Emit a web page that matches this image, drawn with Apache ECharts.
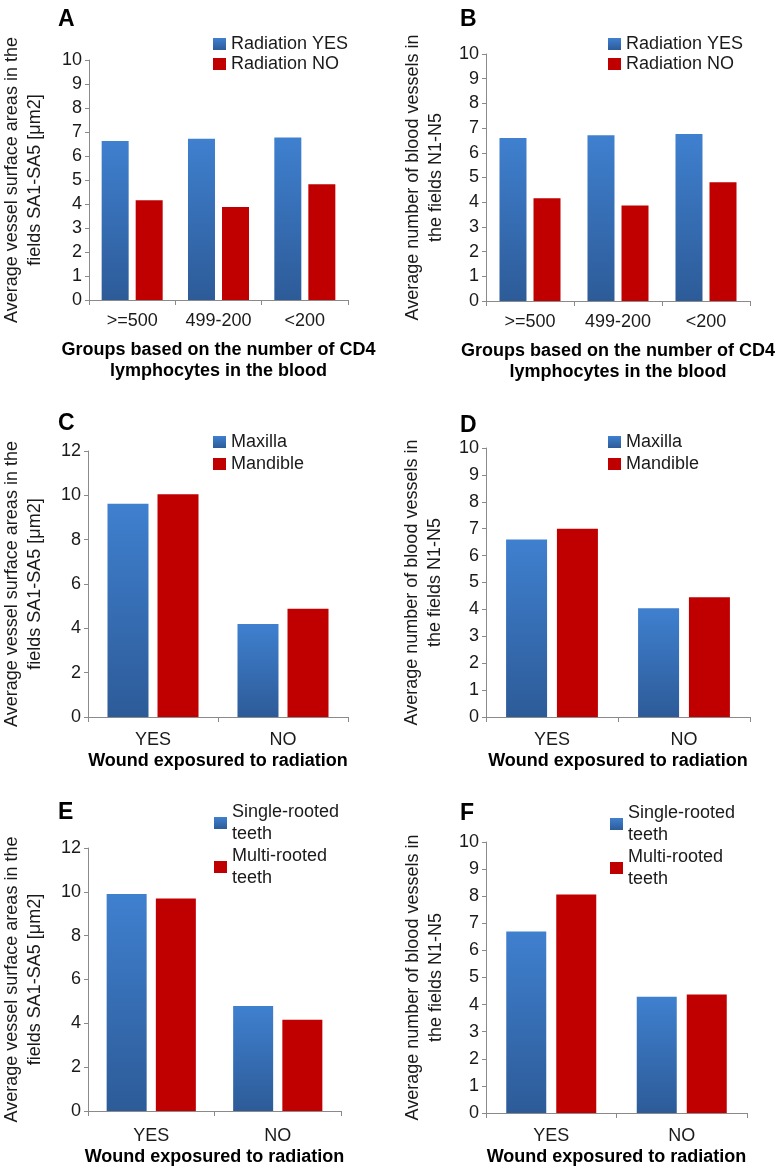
<!DOCTYPE html>
<html>
<head>
<meta charset="utf-8">
<title>Vessels by group</title>
<script src="https://cdn.jsdelivr.net/npm/echarts@6/dist/echarts.min.js"></script>
<style>
  html, body { margin: 0; padding: 0; background: #fff; }
  #main { width: 780px; height: 1170px; }
</style>
</head>
<body>
<div id="main"></div>
<script>
// categories
var cd4Groups = [">=500", "499-200", "<200"];
var woundGroups = ["YES", "NO"];

// series values
var radYesA = [6.62, 6.72, 6.77];
var radNoA = [4.16, 3.87, 4.82];
var radYesB = [6.6, 6.71, 6.76];
var radNoB = [4.16, 3.87, 4.81];
var maxillaC = [9.62, 4.19];
var mandibleC = [10.05, 4.88];
var maxillaD = [6.6, 4.04];
var mandibleD = [7.0, 4.45];
var singleE = [9.9, 4.79];
var multiE = [9.7, 4.16];
var singleF = [6.7, 4.29];
var multiF = [8.06, 4.37];

// y axis scales [max, interval]
var scale10 = [10, 1];
var scale12 = [12, 2];

var areaName = "Average vessel surface areas in the\nfields SA1-SA5 [\u03bcm2]";
var countName = "Average number of blood vessels in\nthe fields N1-N5";
var cd4Name = "Groups based on the number of CD4\nlymphocytes in the blood";
var woundName = "Wound exposured to radiation";

var FONT = "'Liberation Sans', Arial, Helvetica, sans-serif";
var axisGray = "#8a8a8a";
var txt = "#1a1a1a";

// 蓝色柱子是上浅下深的渐变
var blue = new echarts.graphic.LinearGradient(0, 0, 0, 1, [
  { offset: 0, color: "#3f80cf" },
  { offset: 1, color: "#2d5b98" }
]);
var red = "#c00000";

var chart = echarts.init(document.getElementById("main"));

// 每个小图的布局
var panels = [
  { letter: "A", grid: { left: 85, top: 60, width: 263, height: 240 }, cats: cd4Groups, scale: scale10,
    yName: areaName, yGap: 42, xName: cd4Name, xGap: 40, labelMargin: 12, barWidth: 27, barGap: "26%",
    names: ["Radiation YES", "Radiation NO"], data: [radYesA, radNoA], legend: { left: 213, top: 34 }, letterPos: { left: 58, top: 8 } },
  { letter: "B", grid: { left: 486, top: 54, width: 264, height: 247 }, cats: cd4Groups, scale: scale10,
    yName: countName, yGap: 38, xName: cd4Name, xGap: 40, labelMargin: 12, barWidth: 27, barGap: "26%",
    names: ["Radiation YES", "Radiation NO"], data: [radYesB, radNoB], legend: { left: 608, top: 34 }, letterPos: { left: 460, top: 8 } },
  { letter: "C", grid: { left: 85, top: 451, width: 263, height: 266 }, cats: woundGroups, scale: scale12,
    yName: areaName, yGap: 41, xName: woundName, xGap: 34, labelMargin: 14, barWidth: 41, barGap: "22%",
    names: ["Maxilla", "Mandible"], data: [maxillaC, mandibleC], legend: { left: 213, top: 432, itemGap: 2 }, letterPos: { left: 58, top: 412 } },
  { letter: "D", grid: { left: 486, top: 448, width: 264, height: 269 }, cats: woundGroups, scale: scale10,
    yName: countName, yGap: 39, xName: woundName, xGap: 34, labelMargin: 14, barWidth: 41, barGap: "24%",
    names: ["Maxilla", "Mandible"], data: [maxillaD, mandibleD], legend: { left: 608, top: 432, itemGap: 2 }, letterPos: { left: 460, top: 414 } },
  { letter: "E", grid: { left: 85, top: 848, width: 256, height: 263 }, cats: woundGroups, scale: scale12,
    yName: areaName, yGap: 41, xName: woundName, xGap: 36, labelMargin: 16, barWidth: 40, barGap: "23%",
    names: ["Single-rooted\nteeth", "Multi-rooted\nteeth"], data: [singleE, multiE], legend: { left: 214, top: 790, twoLine: true }, letterPos: { left: 58, top: 801 } },
  { letter: "F", grid: { left: 486, top: 842, width: 261, height: 271 }, cats: woundGroups, scale: scale10,
    yName: countName, yGap: 38, xName: woundName, xGap: 34, labelMargin: 14, barWidth: 40, barGap: "25%",
    names: ["Single-rooted\nteeth", "Multi-rooted\nteeth"], data: [singleF, multiF], legend: { left: 610, top: 791, twoLine: true }, letterPos: { left: 460, top: 802 } }
];

var option = {
  animation: false,
  backgroundColor: "#fff",
  textStyle: { fontFamily: FONT },
  title: [], grid: [], xAxis: [], yAxis: [], legend: [], series: []
};

panels.forEach(function (p, i) {
  option.title.push({
    text: p.letter, left: p.letterPos.left, top: p.letterPos.top, padding: 0,
    textStyle: { fontFamily: FONT, fontSize: 23, fontWeight: "bold", color: "#000" }
  });
  option.grid.push(p.grid);
  option.xAxis.push({
    type: "category", gridIndex: i, data: p.cats,
    name: p.xName, nameLocation: "middle", nameGap: p.xGap,
    nameTextStyle: { fontFamily: FONT, fontSize: 18, fontWeight: "bold", color: "#000", lineHeight: 21 },
    axisLine: { lineStyle: { color: axisGray, width: 1 } },
    axisTick: { show: true, length: 5, alignWithLabel: false, lineStyle: { color: axisGray } },
    axisLabel: { fontFamily: FONT, fontSize: 18, color: txt, margin: p.labelMargin },
    splitLine: { show: false }
  });
  option.yAxis.push({
    type: "value", gridIndex: i, min: 0, max: p.scale[0], interval: p.scale[1],
    name: p.yName, nameLocation: "middle", nameGap: p.yGap,
    nameTextStyle: { fontFamily: FONT, fontSize: 18, color: txt, lineHeight: 23 },
    axisLine: { show: true, lineStyle: { color: axisGray, width: 1 } },
    axisTick: { show: true, length: 4, lineStyle: { color: axisGray } },
    axisLabel: { fontFamily: FONT, fontSize: 18, color: txt, margin: 7 },
    splitLine: { show: false }
  });
  var lg = {
    left: p.legend.left, top: p.legend.top, orient: "vertical", padding: 0,
    itemWidth: 13, itemHeight: 12, itemGap: p.legend.itemGap || 0,
    icon: "rect", data: p.names, selectedMode: false,
    textStyle: { fontFamily: FONT, fontSize: 18, color: txt, lineHeight: p.legend.twoLine ? 22 : 20 }
  };
  if (p.legend.twoLine) {
    // 图例图标对齐第一行文字
    lg.textStyle.padding = [22, 0, 0, 0];
    lg.itemGap = -22;
  }
  option.legend.push(lg);
  p.names.forEach(function (nm, k) {
    option.series.push({
      name: nm, type: "bar", xAxisIndex: i, yAxisIndex: i,
      data: p.data[k], barWidth: p.barWidth, barGap: p.barGap,
      itemStyle: { color: k === 0 ? blue : red },
      emphasis: { disabled: true }
    });
  });
});

chart.setOption(option);
</script>
</body>
</html>
